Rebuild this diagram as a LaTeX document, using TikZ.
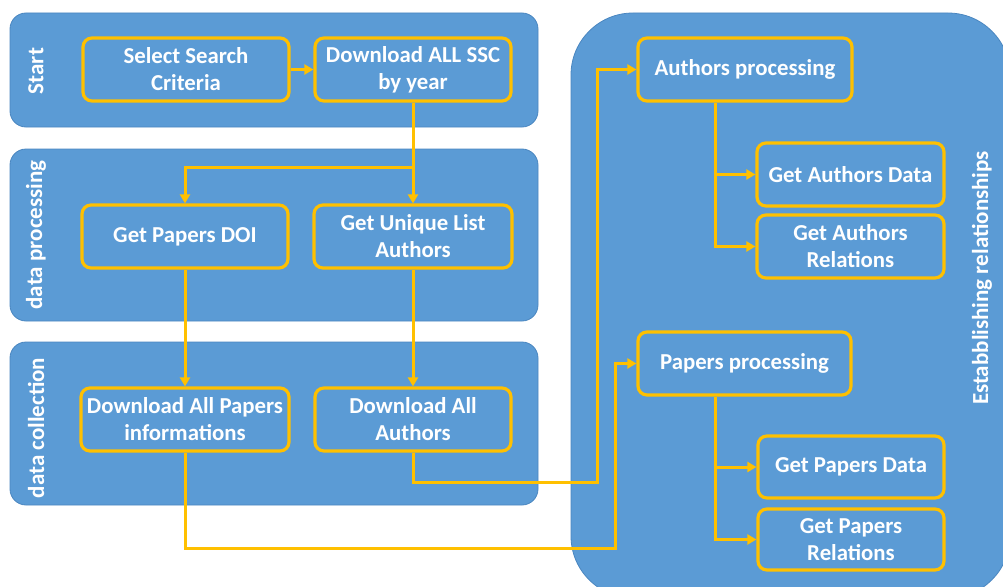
\documentclass[tikz,border=0pt]{standalone}
\usepackage{fontspec}
\setmainfont{Carlito}
\usetikzlibrary{arrows.meta}
\definecolor{panelblue}{HTML}{5B9BD5}
\definecolor{paneledge}{HTML}{4A86C0}
\definecolor{flow}{HTML}{FFC000}
\tikzset{
  panel/.style={draw=paneledge, line width=0.8pt, fill=panelblue, rounded corners=16pt, inner sep=0pt},
  stepbox/.style={draw=flow, line width=3.2pt, rounded corners=9pt, text=white,
    font=\bfseries\fontsize{22.8}{27}\selectfont, align=center, inner sep=0pt},
  lane/.style={text=white, font=\bfseries\fontsize{23}{27}\selectfont, rotate=90, inner sep=0pt},
  flowline/.style={draw=flow, line width=3pt},
  flowarrow/.style={flowline, -{Triangle[length=9pt,width=10pt]}},
}
\begin{document}
\begin{tikzpicture}[x=1pt,y=-1pt]
  \useasboundingbox (0,0) rectangle (1003,586);
  \clip (0,0) rectangle (1003,586);

  % swimlane panels
  \node[panel, minimum width=528pt, minimum height=114pt] (pstart) at (274,70) {};
  \node[panel, minimum width=528pt, minimum height=172pt] (pproc) at (274,235) {};
  \node[panel, minimum width=528pt, minimum height=163pt] (pcoll) at (274,423.5) {};
  \node[panel, rounded corners=62pt, minimum width=439pt, minimum height=585pt] (prel) at (790.5,305.5) {};

  % lane titles
  \node[lane] (lstart) at (36,71) {Start};
  \node[lane] (lproc) at (36,235) {data processing};
  \node[lane] (lcoll) at (36,428) {data collection};
  \node[lane] (lrel) at (982,278) {Estabblishing relationships};

  % process steps
  \node[stepbox, minimum width=206pt, minimum height=63pt] (sel) at (186,69.5) {Select Search\\Criteria};
  \node[stepbox, minimum width=196pt, minimum height=63pt] (ssc) at (413,69.5) {Download ALL SSC\\by year};
  \node[stepbox, minimum width=206pt, minimum height=63pt] (doi) at (185,236.5) {Get Papers DOI};
  \node[stepbox, minimum width=198pt, minimum height=63pt] (uniq) at (413,236.5) {Get Unique List\\Authors};
  \node[stepbox, minimum width=208pt, minimum height=63pt] (dlp) at (185,419.5) {Download All Papers\\informations};
  \node[stepbox, minimum width=196pt, minimum height=63pt] (dla) at (413,419.5) {Download All\\Authors};
  \node[stepbox, minimum width=214pt, minimum height=63pt] (ap) at (745,69.5) {Authors processing};
  \node[stepbox, minimum width=187pt, minimum height=63pt] (ad) at (850.5,174.5) {Get Authors Data};
  \node[stepbox, minimum width=187pt, minimum height=63pt] (ar) at (850.5,246.5) {Get Authors\\Relations};
  \node[stepbox, minimum width=213pt, minimum height=63pt] (pp) at (744.5,363.5) {Papers processing};
  \node[stepbox, minimum width=186pt, minimum height=62pt] (pd) at (851,467) {Get Papers Data};
  \node[stepbox, minimum width=186pt, minimum height=61pt] (pr) at (851,539.5) {Get Papers\\Relations};

  % connectors
  \draw[flowarrow] (sel) -- (ssc);
  \coordinate (split) at (413,167);
  \draw[flowline] (ssc.south) -- (split);
  \draw[flowarrow] (split) -| (doi.north);
  \draw[flowarrow] (split) -- (uniq.north);
  \draw[flowarrow] (doi.south) -- (dlp.north);
  \draw[flowarrow] (uniq.south) -- (dla.north);

  \coordinate (abend) at (597,482);
  \draw[flowarrow] (dla.south) |- (abend) |- (ap.west);
  \coordinate (pbend) at (615,548);
  \draw[flowarrow] (dlp.south) |- (pbend) |- (pp.west);

  \path (ap.south) ++(-30,0) coordinate (apfoot);
  \draw[flowarrow] (apfoot) |- (ad.west);
  \draw[flowarrow] (apfoot) |- (ar.west);
  \path (pp.south) ++(-29.5,0) coordinate (ppfoot);
  \draw[flowarrow] (ppfoot) |- (pd.west);
  \draw[flowarrow] (ppfoot) |- (pr.west);
\end{tikzpicture}
\end{document}
